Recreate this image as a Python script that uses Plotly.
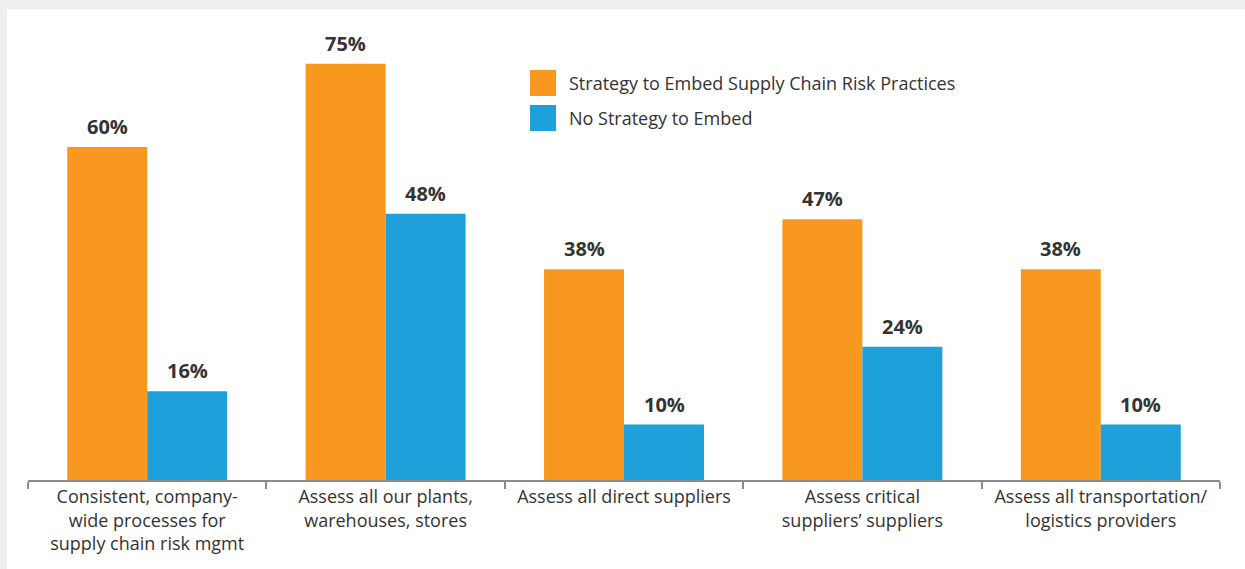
import plotly.graph_objects as go

categories = [
    "Consistent, company-<br>wide processes for<br>supply chain risk mgmt",
    "Assess all our plants,<br>warehouses, stores",
    "Assess all direct suppliers",
    "Assess critical<br>suppliers’ suppliers",
    "Assess all transportation/<br>logistics providers",
]
series_names = ["Strategy to Embed Supply Chain Risk Practices", "No Strategy to Embed"]
strategy_vals = [60, 75, 38, 47, 38]
no_strategy_vals = [16, 48, 10, 24, 10]
colors = ["#F8981F", "#1EA1DA"]

FONT = "Open Sans"
fig = go.Figure()
for name, vals, col in zip(series_names, [strategy_vals, no_strategy_vals], colors):
    fig.add_trace(go.Bar(x=categories, y=vals, name=name, marker=dict(color=col, line=dict(width=0)),
                         showlegend=False))

annotations = []
for vals, shift in [(strategy_vals, -40), (no_strategy_vals, 40)]:
    for c, v in zip(categories, vals):
        annotations.append(dict(x=c, y=v, xref="x", yref="y", text=f"{v}%", showarrow=False,
                                xshift=shift, yshift=5, yanchor="bottom",
                                font=dict(family=FONT, size=20, color="#333333", weight="bold")))

# legend built manually (large swatches)
leg_y = [(0.9111, 0.8533), (0.8333, 0.7756)]
shapes = [
    dict(type="rect", xref="paper", yref="paper", x0=-0.03, x1=1.03, y0=-0.25, y1=1.10,
         fillcolor="#efefef", line=dict(width=0), layer="below"),
    dict(type="rect", xref="paper", yref="paper", x0=-0.0176, x1=1.03, y0=-0.25, y1=1.046,
         fillcolor="#ffffff", line=dict(width=0), layer="below"),
]
for (y1, y0), col, name in zip(leg_y, colors, series_names):
    shapes.append(dict(type="rect", xref="paper", yref="paper", x0=0.4211, x1=0.4430, y0=y0, y1=y1,
                       fillcolor=col, line=dict(width=0)))
    annotations.append(dict(x=0.4520, y=(y0 + y1) / 2, xref="paper", yref="paper", text=name,
                            showarrow=False, xanchor="left", yanchor="middle",
                            font=dict(family=FONT, size=18, color="#333333")))

fig.update_layout(
    width=1245, height=569,
    margin=dict(l=28, r=25, t=30, b=89),
    paper_bgcolor="#ffffff", plot_bgcolor="rgba(0,0,0,0)",
    barmode="group", bargap=0.329, bargroupgap=0,
    shapes=shapes, annotations=annotations,
    font=dict(family=FONT, size=18, color="#333333"),
)
fig.update_xaxes(showline=True, linecolor="#8c8c8c", linewidth=1.5, ticks="outside",
                 tickson="boundaries", ticklen=7, tickcolor="#8c8c8c", tickwidth=1.5,
                 tickfont=dict(family=FONT, size=18, color="#333333"), showgrid=False)
fig.update_yaxes(range=[0, 81.1], visible=False, showgrid=False, zeroline=False)

fig.write_html("out.html")
